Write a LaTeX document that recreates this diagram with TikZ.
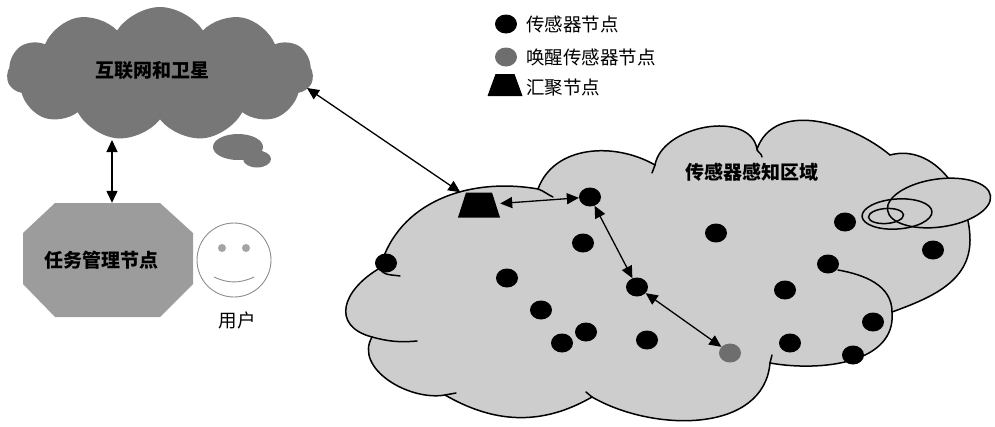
\documentclass[tikz,border=0pt]{standalone}
\usepackage{fontspec}
\newfontfamily\cjk{Noto Sans CJK SC}
\usetikzlibrary{shapes.geometric,shapes.symbols,arrows.meta,calc}
\definecolor{netgray}{HTML}{777777}
\definecolor{taskgray}{HTML}{9C9C9C}
\definecolor{fieldgray}{HTML}{CDCDCD}
\definecolor{wakegray}{HTML}{6E6E6E}
\definecolor{facegray}{HTML}{8C8C8C}
\begin{document}
\begin{tikzpicture}[x=1pt,y=1pt,
  sensor/.style={ellipse, fill=black, minimum width=22pt, minimum height=19pt, inner sep=0pt},
  wake/.style={sensor, fill=wakegray},
  sinknode/.style={rectangle, minimum width=42pt, minimum height=25pt, inner sep=0pt,
    path picture={\fill[black] (path picture bounding box.south west)
      -- (path picture bounding box.south east)
      -- ([xshift=-8pt]path picture bounding box.north east)
      -- ([xshift=8pt]path picture bounding box.north west) -- cycle;}},
  dbl/.style={{Triangle[length=12pt,width=11pt]}-{Triangle[length=12pt,width=11pt]}, line width=1.3pt},
  edge/.style={line width=1.5pt, line cap=round},
  lbl/.style={font=\cjk\bfseries\fontsize{19}{22}\selectfont, inner sep=0pt},
  txt/.style={font=\cjk\fontsize{18.5}{22}\selectfont, inner sep=0pt}]
\useasboundingbox (0,0) rectangle (995,-426);

% ---- internet and satellite cloud ----
\node[cloud, cloud puffs=11, cloud puff arc=115, aspect=2.3, fill=netgray,
      minimum width=306pt, minimum height=134pt, inner sep=0pt] (net) at (160,-74) {};
\node[lbl] (netlabel) at (152,-70) {互联网和卫星};
\fill[netgray] (238,-147) ellipse [x radius=25, y radius=13];
\fill[netgray] (257,-159) ellipse [x radius=14, y radius=8.5];

% ---- task management node ----
\fill[taskgray] (23,-233) -- (55,-203) -- (160,-203) -- (193,-233) -- (193,-284)
  -- (160,-317) -- (55,-317) -- (23,-284) -- cycle;
\node[minimum width=170pt, minimum height=114pt, inner sep=0pt] (task) at (108,-260) {};
\node[lbl] (tasklabel) at (101,-260) {任务管理节点};

% ---- user ----
\node[circle, draw=facegray, line width=0.9pt, minimum size=74pt, inner sep=0pt] (user) at (234,-260) {};
\fill[facegray!80] ($(user)+(-12,12)$) circle [radius=4];
\fill[facegray!80] ($(user)+(12,12)$) circle [radius=4];
\draw[facegray, line width=0.9pt] ($(user)+(-20,-17)$) to[out=-25,in=205] ($(user)+(20,-17)$);
\node[txt] (userlabel) at (237,-320) {用户};

% ---- legend ----
\node[sensor] (lgs) at (506,-24) {};
\node[txt, anchor=west] (lgstext) at (526,-24) {传感器节点};
\node[wake] (lgw) at (506,-57) {};
\node[txt, anchor=west] (lgwtext) at (526,-57) {唤醒传感器节点};
\node[sinknode, minimum width=35pt, minimum height=22pt] (lgk) at (505,-85) {};
\node[txt, anchor=west] (lgktext) at (526,-88) {汇聚节点};

% ---- sensing field ----
\coordinate (A) at (380,-268);
\coordinate (B) at (538,-189);
\coordinate (C) at (655,-165);
\coordinate (D) at (757,-149);
\coordinate (E) at (890,-155);
\coordinate (R) at (970,-240);
\coordinate (F) at (892,-312);
\coordinate (G) at (770,-363);
\coordinate (H) at (592,-397);
\coordinate (I) at (445,-395);
\coordinate (J) at (372,-337);
\filldraw[fill=fieldgray, edge]
  (A) to[out=75,in=170] (B)
      to[out=70,in=150] (C)
      to[out=80,in=100] (D)
      to[out=70,in=140] (E)
      to[out=15,in=90] (R)
      to[out=-90,in=20] (F)
      to[out=-85,in=-10] (G)
      to[out=-95,in=-30] (H)
      to[out=-150,in=-30] (I)
      to[out=-170,in=-120] (J)
      to[out=165,in=-150,looseness=1.6] (A) -- cycle;
% inner ends of the overlapping puffs
\draw[edge] (A) to[out=-70,in=170] (400,-276);
\draw[edge] (B) to[out=-20,in=155] (553,-197);
\draw[edge] (C) -- (652,-173);
\draw[edge] (D) to[out=-80,in=95] (762,-157);
\draw[edge] (838,-270) to[out=-10,in=90] (F);
\draw[edge] (G) -- (772,-355);
\draw[edge] (H) -- (586,-392);
\draw[edge] (I) -- (456,-393);
\draw[edge] (J) to[out=-15,in=185] (417,-341);
% overlapping ellipse and nested rings
\filldraw[fill=fieldgray, edge] (939,-203) ellipse [x radius=52, y radius=24, rotate=8];
\draw[edge] (897,-214) ellipse [x radius=35, y radius=15, rotate=4];
\draw[edge] (886,-216) ellipse [x radius=17.5, y radius=7.5, rotate=4];
\node[lbl] (fieldlabel) at (752,-172) {传感器感知区域};

% sensors
\node[sensor] (s1) at (386,-263) {};
\node[sensor] (s2) at (507,-278) {};
\node[sensor] (s3) at (541,-310) {};
\node[sensor] (s4) at (562,-343) {};
\node[sensor] (s5) at (586,-332) {};
\node[sensor] (s6) at (590,-197) {};
\node[sensor] (s7) at (583,-243) {};
\node[sensor] (s8) at (637,-287) {};
\node[sensor] (s9) at (647,-340) {};
\node[sensor] (s10) at (716,-233) {};
\node[wake] (w1) at (730,-353) {};
\node[sensor] (s11) at (785,-290) {};
\node[sensor] (s12) at (790,-343) {};
\node[sensor] (s13) at (828,-264) {};
\node[sensor] (s14) at (845,-222) {};
\node[sensor] (s15) at (873,-322) {};
\node[sensor] (s16) at (853,-355) {};
\node[sensor] (s17) at (933,-250) {};
\node[sinknode] (sink) at (479,-205) {};

% ---- links ----
\coordinate (netB) at (112,-140);
\coordinate (netR) at (307,-88);
\draw[dbl] (netB) -- (netB |- task.north);
\draw[dbl] (netR) -- (sink);
\draw[dbl] (sink) -- (s6);
\draw[dbl] (s6) -- (s8);
\draw[dbl] (s8) -- (w1);
\end{tikzpicture}
\end{document}
